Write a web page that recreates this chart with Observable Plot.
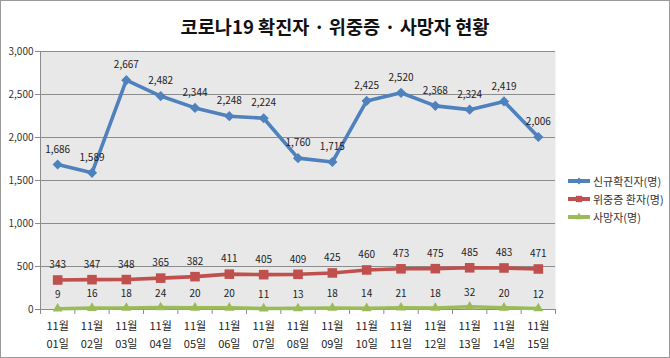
<!DOCTYPE html>
<html><head><meta charset="utf-8">
<script src="https://cdn.jsdelivr.net/npm/d3@7"></script>
<script src="https://cdn.jsdelivr.net/npm/@observablehq/plot@0.6"></script>
<style>
body{margin:0;background:#fff;}
#wrap{position:relative;width:670px;height:358px;box-sizing:border-box;border:1px solid #9a9a9a;font-family:"Noto Sans CJK KR",sans-serif;overflow:hidden;background:#fff;}
#title{position:absolute;left:0;top:13px;width:668px;text-align:center;font-size:18.6px;font-weight:bold;color:#111;line-height:24px;}
#chart{position:absolute;left:0;top:41px;}
#legend{position:absolute;left:566px;top:171px;font-size:11px;color:#333;}
.item{display:flex;align-items:center;height:18px;white-space:nowrap;}
.item svg{margin-right:2px;}
</style></head>
<body><div id="wrap"><div id="title"></div><div id="chart"></div><div id="legend"></div></div>
<script>
const title = "코로나19 확진자 · 위중증 · 사망자 현황";
const monthLabels = ["11월","11월","11월","11월","11월","11월","11월","11월","11월","11월","11월","11월","11월","11월","11월"];
const dayLabels = ["01일","02일","03일","04일","05일","06일","07일","08일","09일","10일","11일","12일","13일","14일","15일"];
const newCases = [1686,1589,2667,2482,2344,2248,2224,1760,1715,2425,2520,2368,2324,2419,2006];
const critical = [343,347,348,365,382,411,405,409,425,460,473,475,485,483,471];
const deaths = [9,16,18,24,20,20,11,13,18,14,21,18,32,20,12];
const seriesNames = ["신규확진자(명)","위중증 환자(명)","사망자(명)"];
const seriesColors = ["#4f81bd","#c0504d","#9bbb59"];
const seriesSymbols = ["diamond2","square","triangle"];
const seriesR = [4.6,5.4,3.7];
const yTicks = [0,500,1000,1500,2000,2500,3000];

document.getElementById("title").textContent = title;

const seriesValues = [newCases, critical, deaths];
const idx = dayLabels.map((d,i)=>i+1);
const bounds = [0.5, ...idx.map(i=>i+0.5)];
const fmt = d3.format(",");

const seriesMarks = seriesValues.flatMap((vals, s) => {
  const data = vals.map((v,i)=>({i:i+1, v}));
  return [
    Plot.line(data, {x:"i", y:"v", stroke: seriesColors[s], strokeWidth: 3.6}),
    Plot.dot(data, {x:"i", y:"v", symbol: seriesSymbols[s], r: seriesR[s], fill: seriesColors[s], stroke: null}),
    Plot.text(data, {x:"i", y:"v", text: d=>fmt(d.v), dy: s===2 ? -14 : -15, fontSize: 10, fill:"#222"})
  ];
});

const chart = Plot.plot({
  width: 668, height: 312,
  marginLeft: 39, marginRight: 114, marginTop: 9, marginBottom: 45,
  x: {domain:[0.5,15.5]},
  y: {domain:[0,3000]},
  style: {fontFamily:'"Noto Sans CJK KR", sans-serif', fontSize: "10px", color:"#333", background:"transparent", overflow:"visible"},
  marks: [
    Plot.frame({fill:"#e8e8e8", stroke:null}),
    Plot.ruleY(yTicks.filter(d=>d>0), {stroke:"#8c8c8c", strokeWidth:1, strokeOpacity:1}),
    Plot.ruleY([0], {stroke:"#8c8c8c", strokeOpacity:1}),
    Plot.ruleX([0.5], {stroke:"#8c8c8c", strokeOpacity:1}),
    Plot.axisY({ticks: yTicks, tickSize: 5, tickPadding: 2, tickFormat: fmt, fontSize: 10, label: null, stroke:"#8c8c8c"}),
    Plot.axisX({ticks: bounds, tickSize: 5, tickFormat: ()=>"", label: null, stroke:"#8c8c8c"}),
    Plot.axisX({ticks: idx, tickSize: 0, tickPadding: 13, tickFormat: i=>monthLabels[i-1], fontSize: 11, label: null, fill:"#222"}),
    Plot.axisX({ticks: idx, tickSize: 0, tickPadding: 31, tickFormat: i=>dayLabels[i-1], fontSize: 11, label: null, fill:"#222"}),
    ...seriesMarks
  ]
});
document.getElementById("chart").appendChild(chart);

const legend = d3.select("#legend");
seriesNames.forEach((name, s) => {
  const item = legend.append("div").attr("class","item");
  const svg = item.append("svg").attr("width",24).attr("height",12);
  svg.append("line").attr("x1",1).attr("x2",23).attr("y1",6).attr("y2",6).attr("stroke",seriesColors[s]).attr("stroke-width",4);
  const sym = s===0 ? d3.symbolDiamond2 : s===1 ? d3.symbolSquare : d3.symbolTriangle;
  svg.append("path").attr("transform","translate(12,6)").attr("d", d3.symbol(sym, s===0?30:s===1?40:25)()).attr("fill",seriesColors[s]);
  item.append("span").text(name);
});
</script>
</body></html>
